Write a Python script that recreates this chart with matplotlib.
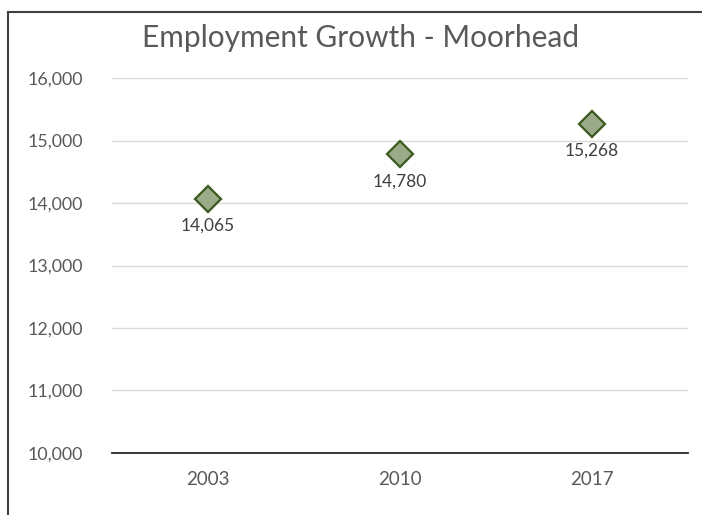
import matplotlib.pyplot as plt
from matplotlib.lines import Line2D
from matplotlib.ticker import FuncFormatter

years = ["2003", "2010", "2017"]
employment = [14065, 14780, 15268]
y_ticks = [10000, 11000, 12000, 13000, 14000, 15000, 16000]

plt.rcParams['font.family'] = ['Lato', 'DejaVu Sans']
text_color = "#595959"

fig = plt.figure(figsize=(7.02, 5.15), dpi=100)
ax = fig.add_axes([0.1595, 0.1204, 0.8205, 0.7281])

x = range(len(years))
ax.plot(x, employment, linestyle="none", marker="D", markersize=13,
        markerfacecolor="#9aab8a", markeredgecolor="#3b5a1e",
        markeredgewidth=1.6, zorder=3)

# data labels below each point
for xi, v in zip(x, employment):
    ax.annotate(f"{v:,}", (xi, v), xytext=(0, -19.5), textcoords="offset points",
                ha="center", va="center", fontsize=12.5, color="#404040")

ax.set_xlim(-0.5, len(years) - 0.5)
ax.set_ylim(10000, 16000)
ax.set_xticks(list(x))
ax.set_xticklabels(years)
ax.set_yticks(y_ticks)
ax.yaxis.set_major_formatter(FuncFormatter(lambda v, p: f"{int(v):,}"))
ax.tick_params(axis="both", length=0, labelsize=13.5, colors=text_color)
ax.tick_params(axis="x", pad=13)
ax.tick_params(axis="y", labelsize=12.8, pad=21)
ax.grid(axis="y", color="#d9d9d9", linewidth=1)
ax.set_axisbelow(True)
for side in ["top", "right", "left"]:
    ax.spines[side].set_visible(False)
ax.spines["bottom"].set_color("#262626")
ax.spines["bottom"].set_linewidth(1.3)

fig.text(0.513, 0.926, "Employment Growth - Moorhead", ha="center", va="center",
         fontsize=21.5, color=text_color)

# chart border (left and top edges visible)
fig.add_artist(Line2D([0.012, 0.012], [0, 0.977], color="#404040", linewidth=1.5))
fig.add_artist(Line2D([0.012, 1.0], [0.977, 0.977], color="#404040", linewidth=1.5))

fig.savefig("out.png", dpi=100)
